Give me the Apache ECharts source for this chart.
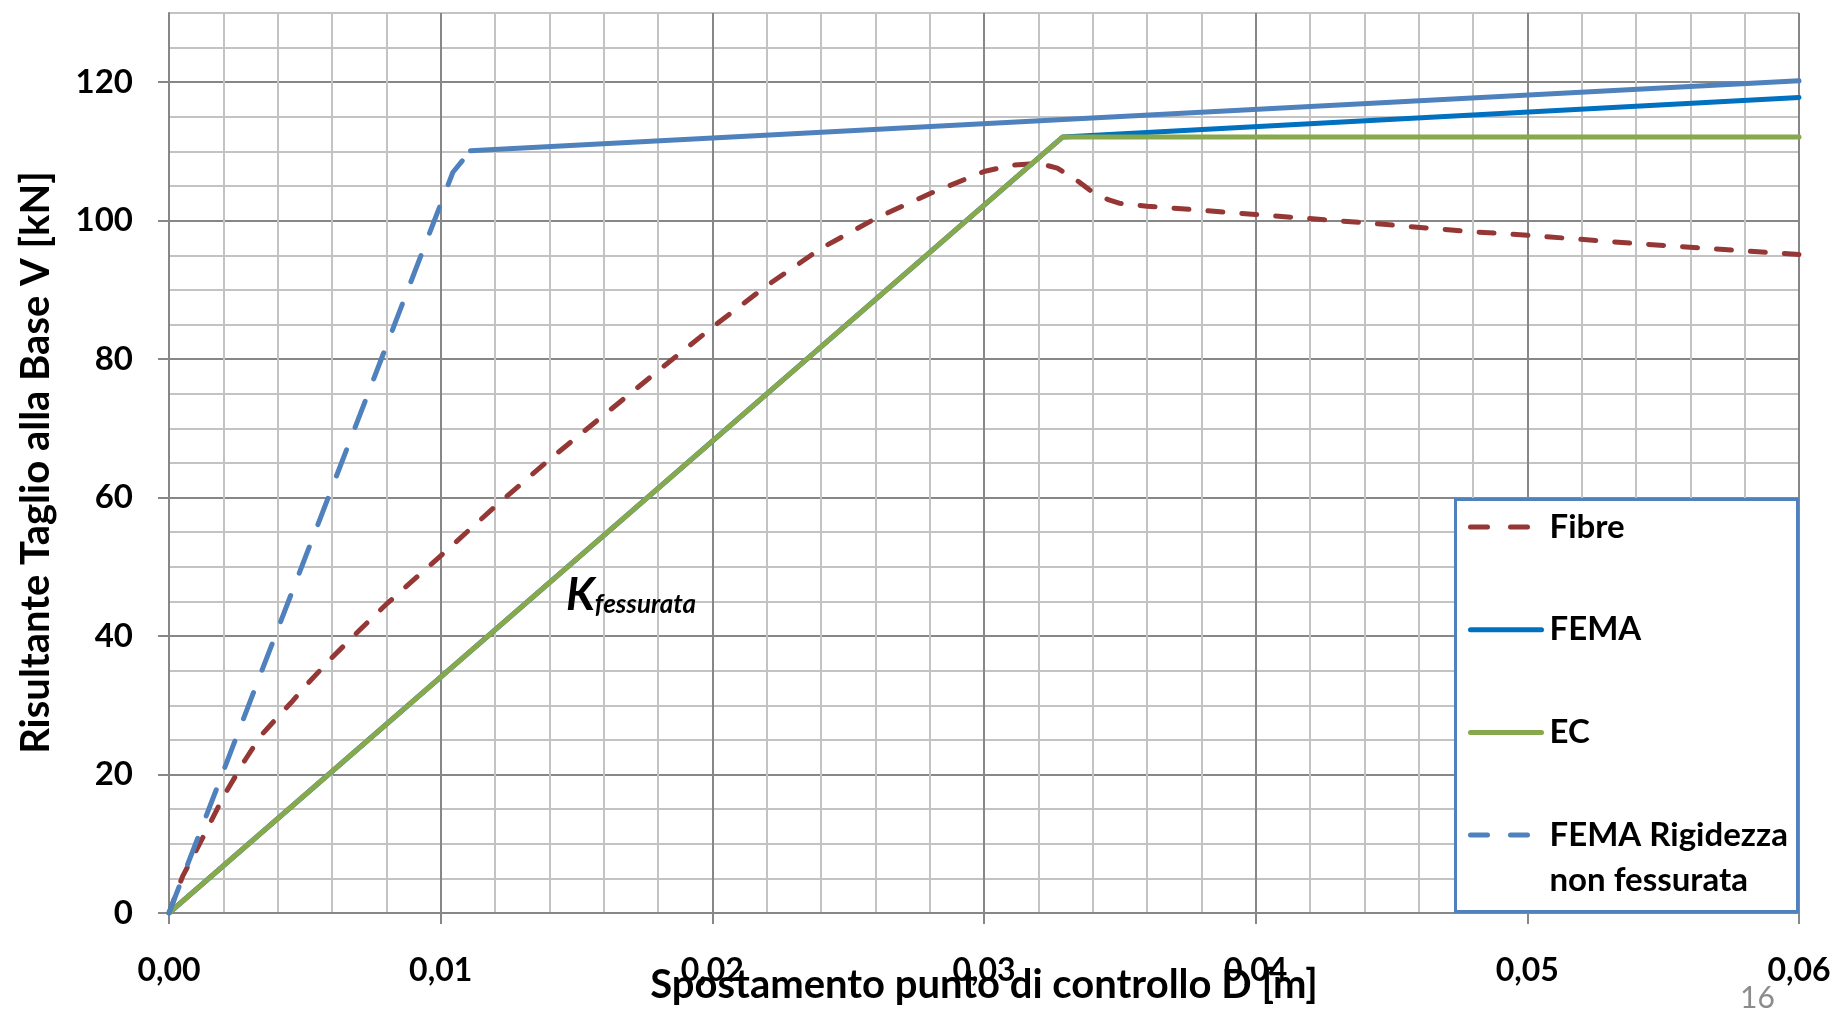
<!DOCTYPE html>
<html>
<head>
<meta charset="utf-8">
<script src="https://cdn.jsdelivr.net/npm/echarts@6/dist/echarts.min.js"></script>
<style>
html,body{margin:0;padding:0;background:#fff;}
#chart{width:1840px;height:1010px;}
</style>
</head>
<body>
<div id="chart"></div>
<script>
// ---------------- data ----------------
const seriesNames = ['Fibre', 'FEMA', 'EC', 'FEMA Rigidezza non fessurata'];

const xFibre = [0, 0.0005, 0.0013, 0.002, 0.0028, 0.0034, 0.004, 0.0045, 0.005, 0.006, 0.007, 0.008,
  0.010, 0.012, 0.014, 0.016, 0.018, 0.020, 0.022, 0.024, 0.026, 0.028, 0.030, 0.031, 0.032, 0.0327,
  0.0335, 0.034, 0.0346, 0.035, 0.036, 0.038, 0.040, 0.044, 0.048, 0.050, 0.054, 0.060];
const yFibre = [0, 5.3, 11.3, 16.8, 22.1, 25.7, 28.3, 30.4, 32.7, 36.9, 40.8, 44.6,
  51.6, 58.7, 65.5, 71.9, 78.3, 84.6, 90.6, 96.0, 100.3, 103.9, 107.1, 108.0, 108.3, 107.6,
  105.6, 104.1, 103.0, 102.5, 102.1, 101.5, 100.9, 99.7, 98.4, 97.9, 96.7, 95.1];

const xFema = [0, 0.0329, 0.060];
const yFema = [0, 112.1, 117.8];

const xEc = [0, 0.0329, 0.060];
const yEc = [0, 112.1, 112.1];

const xRigidezza = [0, 0.01045, 0.0111];
const yRigidezza = [0, 107.0, 110.1];

const xRigidezzaPost = [0.0111, 0.060];
const yRigidezzaPost = [110.1, 120.2];

const xTicks = [0, 0.01, 0.02, 0.03, 0.04, 0.05, 0.06];
const yTicks = [0, 20, 40, 60, 80, 100, 120];

const xTitle = 'Spostamento punto di controllo D [m]';
const yTitle = 'Risultante Taglio alla Base V [kN]';
const legendLastLines = ['FEMA Rigidezza', 'non fessurata'];
const annotationMain = 'K';
const annotationSub = 'fessurata';
const pageNumber = '16';

// ---------------- chart ----------------
const FONT = 'Lato';
const MAJOR = '#878787';
const MINOR = '#c3c3c3';
const C_FIBRE = '#953735';
const C_FEMA = '#0070c0';
const C_EC = '#87a84d';
const C_RIG = '#4f81bd';

function pairs(xs, ys) { return xs.map((x, i) => [x, ys[i]]); }

const chart = echarts.init(document.getElementById('chart'), null, { renderer: 'canvas' });

const labelText = { fontFamily: FONT, fontWeight: 'bold', color: '#000' };
const legendText = { fontFamily: FONT, fontWeight: 'bold', fontSize: 33, color: '#000', lineHeight: 45 };

const option = {
  animation: false,
  backgroundColor: '#ffffff',
  grid: { left: 169, right: 41, top: 13, bottom: 97, containLabel: false, outerBoundsMode: 'none' },
  xAxis: [
    {
      type: 'value', position: 'bottom', min: 0, max: 0.06, interval: 0.002,
      axisLine: { show: false }, axisTick: { show: false }, axisLabel: { show: false },
      splitLine: { show: true, lineStyle: { color: [MAJOR, MINOR, MINOR, MINOR, MINOR], width: 2 } }
    },
    {
      type: 'value', position: 'bottom', min: 0, max: 0.06, interval: 0.01,
      axisLine: { show: true, onZero: false, lineStyle: { color: MAJOR, width: 2 } },
      axisTick: { show: true, inside: false, length: 11, customValues: xTicks, lineStyle: { color: MAJOR, width: 2 } },
      axisLabel: Object.assign({ show: true, margin: 42, fontSize: 32, customValues: xTicks,
        formatter: v => Number(v).toFixed(2).replace('.', ',') }, labelText),
      splitLine: { show: false }
    }
  ],
  yAxis: [
    {
      type: 'value', position: 'left', min: 0, max: 130, interval: 5,
      axisLine: { show: false }, axisTick: { show: false }, axisLabel: { show: false },
      splitLine: { show: true, lineStyle: { color: [MAJOR, MINOR, MINOR, MINOR], width: 2 } }
    },
    {
      type: 'value', position: 'left', min: 0, max: 130, interval: 10,
      axisLine: { show: true, onZero: false, lineStyle: { color: MAJOR, width: 2 } },
      axisTick: { show: true, inside: false, length: 11, customValues: yTicks, lineStyle: { color: MAJOR, width: 2 } },
      axisLabel: Object.assign({ show: true, margin: 36, fontSize: 33, customValues: yTicks,
        formatter: v => String(Math.round(v)) }, labelText),
      splitLine: { show: false }
    }
  ],
  legend: [
    {
      orient: 'vertical', left: 1468, top: 504.5, padding: 0,
      itemWidth: 71, itemHeight: 14, itemGap: 57.7,
      itemStyle: { opacity: 0 },
      lineStyle: { width: 5, cap: 'round' },
      data: [
        { name: seriesNames[0], lineStyle: { type: [17, 23], width: 5, cap: 'round' } },
        { name: seriesNames[1] },
        { name: seriesNames[2] }
      ],
      textStyle: Object.assign({ padding: [0, 0, 0, 3] }, legendText)
    },
    {
      orient: 'vertical', left: 1468, top: 767.5, padding: 0,
      itemWidth: 71, itemHeight: 14,
      itemStyle: { opacity: 0 },
      lineStyle: { width: 5, cap: 'round' },
      data: [{ name: seriesNames[3], lineStyle: { type: [17, 23], width: 5, cap: 'round' } }],
      formatter: n => '\u00a0\n' + legendLastLines.join('\n'),
      textStyle: Object.assign({ padding: [0, 0, 0, 3] }, legendText)
    }
  ],
  series: [
    {
      name: seriesNames[0], type: 'line', xAxisIndex: 1, yAxisIndex: 1, z: 2,
      data: pairs(xFibre, yFibre), symbol: 'none', smooth: false,
      lineStyle: { color: C_FIBRE, width: 5, type: [15, 19], cap: 'round', join: 'round' },
      itemStyle: { color: C_FIBRE }
    },
    {
      name: seriesNames[1], type: 'line', xAxisIndex: 1, yAxisIndex: 1, z: 2,
      data: pairs(xFema, yFema), symbol: 'none',
      lineStyle: { color: C_FEMA, width: 5, type: 'solid', cap: 'round', join: 'round' },
      itemStyle: { color: C_FEMA }
    },
    {
      name: seriesNames[2], type: 'line', xAxisIndex: 1, yAxisIndex: 1, z: 2,
      data: pairs(xEc, yEc), symbol: 'none',
      lineStyle: { color: C_EC, width: 5, type: 'solid', cap: 'round', join: 'round' },
      itemStyle: { color: C_EC }
    },
    {
      name: seriesNames[3], type: 'line', xAxisIndex: 1, yAxisIndex: 1, z: 2,
      data: pairs(xRigidezza, yRigidezza), symbol: 'none',
      lineStyle: { color: C_RIG, width: 5, type: [28, 24], cap: 'round', join: 'round' },
      itemStyle: { color: C_RIG }
    },
    {
      name: seriesNames[3] + ' (post)', type: 'line', xAxisIndex: 1, yAxisIndex: 1, z: 2,
      data: pairs(xRigidezzaPost, yRigidezzaPost), symbol: 'none',
      lineStyle: { color: C_RIG, width: 5, type: 'solid', cap: 'round', join: 'round' },
      itemStyle: { color: C_RIG }
    }
  ],
  graphic: [
    {
      type: 'rect', z: 3,
      shape: { x: 1455.5, y: 499.5, width: 342, height: 412 },
      style: { fill: '#ffffff', stroke: C_RIG, lineWidth: 3 }
    },
    {
      type: 'text', z: 10, x: 566, y: 618,
      style: {
        text: '{k|' + annotationMain + '}{s|' + annotationSub + '}',
        verticalAlign: 'bottom', align: 'left',
        rich: {
          k: { fontFamily: FONT, fontWeight: 'bold', fontStyle: 'italic', fontSize: 45, fill: '#000', verticalAlign: 'bottom' },
          s: { fontFamily: FONT, fontWeight: 'bold', fontStyle: 'italic', fontSize: 26, fill: '#000', verticalAlign: 'bottom' }
        }
      }
    },
    {
      type: 'text', z: 10, x: 36, y: 462.5, rotation: Math.PI / 2,
      style: { text: yTitle, fontFamily: FONT, fontWeight: 'bold', fontSize: 40, fill: '#000', align: 'center', verticalAlign: 'middle' }
    },
    {
      type: 'text', z: 10, x: 984, y: 985,
      style: { text: xTitle, fontFamily: FONT, fontWeight: 'bold', fontSize: 40, fill: '#000', align: 'center', verticalAlign: 'middle' }
    },
    {
      type: 'text', z: 10, x: 1740, y: 983,
      style: { text: pageNumber, fontFamily: FONT, fontSize: 30, fill: '#8c8c8c', align: 'left', verticalAlign: 'top' }
    }
  ]
};

chart.setOption(option);
</script>
</body>
</html>
